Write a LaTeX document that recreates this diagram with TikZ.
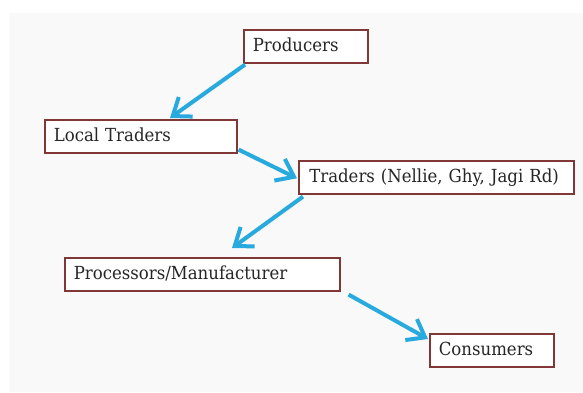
\documentclass[tikz,border=0pt]{standalone}
\usepackage{fontspec}
\setmainfont{DejaVu Serif}[FakeStretch=0.92]
\usetikzlibrary{arrows.meta,calc}
\definecolor{arrowblue}{RGB}{40,170,222}
\definecolor{boxred}{RGB}{130,55,55}
\definecolor{panelgray}{RGB}{249,249,249}
\tikzset{
  box/.style={draw=boxred, line width=1.6pt, fill=white, anchor=north west,
    inner xsep=9pt, inner ysep=0pt, minimum height=33pt, align=left,
    text height=14pt, text depth=3pt,
    font=\fontsize{18}{20}\selectfont, text=black!85},
  flow/.style={draw=arrowblue, line width=4pt,
    -{Straight Barb[length=16pt,width=24pt]}}
}
\begin{document}
\begin{tikzpicture}[x=1pt,y=-1pt]
\useasboundingbox (0,0) rectangle (583,392);
\fill[white] (0,0) rectangle (583,392);
\fill[panelgray] (9,13) rectangle (583,392);
\node[box, text width=106pt] (p) at (243,29) {Producers};
\node[box, text width=174pt] (lt) at (44,119) {Local Traders};
\node[box, text width=254pt, inner xsep=10.5pt] (tr) at (298,160) {Traders (Nellie, Ghy, Jagi Rd)};
\node[box, text width=257pt] (pm) at (64,257) {Processors/Manufacturer};
\node[box, text width=106pt] (c) at (429,333) {Consumers};
\draw[flow] ([xshift=2pt,yshift=-1pt]p.south west) -- ([xshift=126pt,yshift=1pt]lt.north west);
\draw[flow] ([xshift=1pt,yshift=4pt]lt.south east) -- ([xshift=-1pt,yshift=-1pt]tr.west);
\draw[flow] ([xshift=5pt,yshift=-2pt]tr.south west) -- ([xshift=168pt,yshift=9pt]pm.north west);
\draw[flow] ([xshift=8pt,yshift=-3pt]pm.south east) -- ([xshift=-1pt,yshift=-6pt]c.north west);
\end{tikzpicture}
\end{document}
